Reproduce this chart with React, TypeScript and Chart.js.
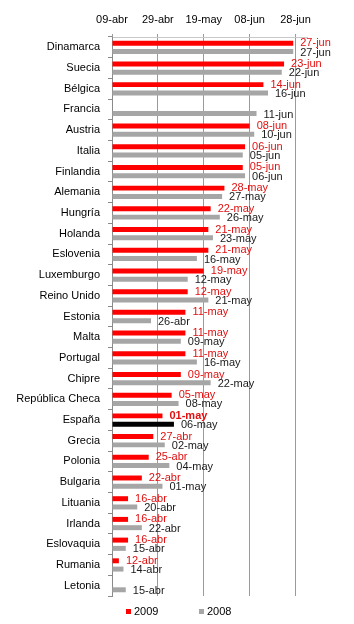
import React, { useEffect, useRef } from "react";
import { Chart, registerables } from "chart.js";

Chart.register(...registerables);

const categories = [
  "Dinamarca", "Suecia", "Bélgica", "Francia", "Austria", "Italia", "Finlandia",
  "Alemania", "Hungría", "Holanda", "Eslovenia", "Luxemburgo", "Reino Unido",
  "Estonia", "Malta", "Portugal", "Chipre", "República Checa", "España", "Grecia",
  "Polonia", "Bulgaria", "Lituania", "Irlanda", "Eslovaquia", "Rumania", "Letonia",
];

const dates2009: (string | null)[] = [
  "27-jun", "23-jun", "14-jun", null, "08-jun", "06-jun", "05-jun",
  "28-may", "22-may", "21-may", "21-may", "19-may", "12-may",
  "11-may", "11-may", "11-may", "09-may", "05-may", "01-may", "27-abr",
  "25-abr", "22-abr", "16-abr", "16-abr", "16-abr", "12-abr", null,
];

const dates2008: (string | null)[] = [
  "27-jun", "22-jun", "16-jun", "11-jun", "10-jun", "05-jun", "06-jun",
  "27-may", "26-may", "23-may", "16-may", "12-may", "21-may",
  "26-abr", "09-may", "16-may", "22-may", "08-may", "06-may", "02-may",
  "04-may", "01-may", "20-abr", "22-abr", "15-abr", "14-abr", "15-abr",
];

const seriesNames = ["2009", "2008"];
const tickLabels = ["09-abr", "29-abr", "19-may", "08-jun", "28-jun"];
const axisEnd = "03-jul";
const highlighted = "España";

const FONT = '"Liberation Sans", Arial, sans-serif';
const RED = "#ff0000";
const GRAY = "#a6a6a6";
const RED_TEXT = "#e01010";
const DARK_TEXT = "#1a1a1a";

const MONTHS: Record<string, number> = { abr: 3, may: 4, jun: 5, jul: 6 };
function toDay(s: string): number {
  const [d, m] = s.split("-");
  const [bd, bm] = tickLabels[0].split("-");
  return (Date.UTC(2009, MONTHS[m], +d) - Date.UTC(2009, MONTHS[bm], +bd)) / 864e5;
}

const labelPlugin = {
  id: "barLabels",
  afterDatasetsDraw(chart: any) {
    const ctx = chart.ctx;
    const sources = [dates2009, dates2008];
    ctx.save();
    chart.data.datasets.forEach((_ds: any, di: number) => {
      const meta = chart.getDatasetMeta(di);
      meta.data.forEach((el: any, i: number) => {
        const txt = sources[di][i];
        if (txt == null) return;
        const { x, y } = el.getProps(["x", "y"], true);
        if (!isFinite(x) || !isFinite(y)) return;
        const bold = categories[i] === highlighted && di === 0;
        ctx.font = (bold ? "bold " : "") + "11px " + FONT;
        ctx.fillStyle = di === 0 ? RED_TEXT : DARK_TEXT;
        ctx.textAlign = "left";
        ctx.textBaseline = "middle";
        ctx.fillText(txt, x + 7, y + (di === 0 ? 0 : 1));
      });
    });
    ctx.restore();
  },
};

export default function App() {
  const ref = useRef<HTMLCanvasElement | null>(null);

  useEffect(() => {
    if (!ref.current) return;
    const chart = new Chart(ref.current, {
      type: "bar",
      data: {
        labels: categories,
        datasets: [
          {
            label: seriesNames[0],
            data: dates2009.map((d) => (d == null ? null : toDay(d))),
            backgroundColor: RED,
            categoryPercentage: 0.8,
            barPercentage: 0.6,
          },
          {
            label: seriesNames[1],
            data: dates2008.map((d) => (d == null ? null : toDay(d))),
            backgroundColor: categories.map((c) => (c === highlighted ? "#000000" : GRAY)),
            categoryPercentage: 0.8,
            barPercentage: 0.6,
          },
        ],
      },
      options: {
        indexAxis: "y",
        responsive: false,
        animation: false,
        layout: { padding: { left: 0, right: 47, top: 0, bottom: 28 } },
        plugins: { legend: { display: false }, tooltip: { enabled: false } },
        scales: {
          x: {
            position: "top",
            min: 0,
            max: toDay(axisEnd),
            afterBuildTicks: (s: any) => {
              s.ticks = tickLabels.map((t) => ({ value: toDay(t) }));
            },
            ticks: {
              callback: (v: any) => tickLabels.find((t) => toDay(t) === v) ?? "",
              font: { family: FONT, size: 11 },
              color: "#000",
              padding: 7,
              maxRotation: 0,
              autoSkip: false,
            },
            grid: { color: "#9a9a9a", tickLength: 3, lineWidth: 1 },
            border: { display: true, color: "#c8c8c8" },
            afterFit: (s: any) => {
              s.height = 37;
            },
          },
          y: {
            ticks: {
              font: { family: FONT, size: 11 },
              color: "#000",
              padding: 8,
              autoSkip: false,
            },
            grid: { drawOnChartArea: false, tickLength: 4, color: "#8a8a8a", offset: true },
            border: { color: "#8a8a8a" },
            afterFit: (s: any) => {
              s.width = 112;
            },
          },
        },
      } as any,
      plugins: [labelPlugin],
    });
    return () => chart.destroy();
  }, []);

  const legendItems = [
    { name: seriesNames[0], color: RED, left: 126 },
    { name: seriesNames[1], color: GRAY, left: 199 },
  ];

  return (
    <div style={{ position: "fixed", left: 0, top: 0, width: 354, height: 624, background: "#fff" }}>
      <canvas ref={ref} width={354} height={624} style={{ display: "block" }} />
      {legendItems.map((it) => (
        <div
          key={it.name}
          style={{
            position: "absolute",
            left: it.left,
            top: 604,
            height: 14,
            display: "flex",
            alignItems: "center",
            fontFamily: FONT,
            fontSize: 11,
            color: "#000",
          }}
        >
          <span style={{ width: 5, height: 5, background: it.color, marginRight: 3, display: "inline-block" }} />
          <span>{it.name}</span>
        </div>
      ))}
    </div>
  );
}
